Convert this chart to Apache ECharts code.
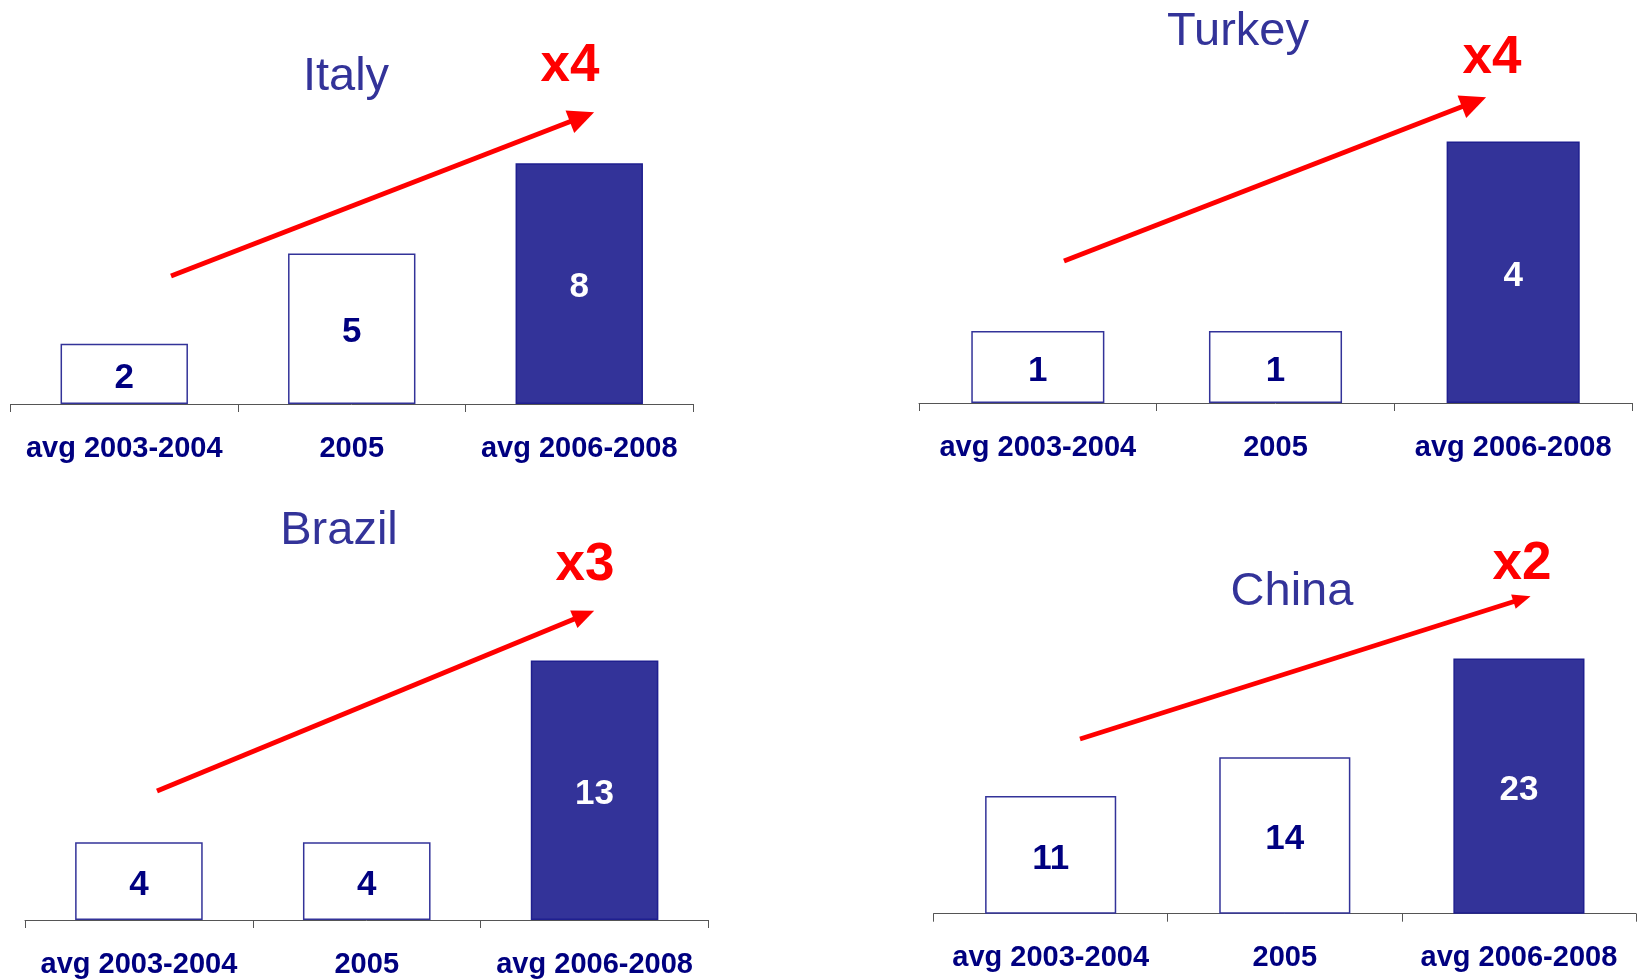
<!DOCTYPE html>
<html>
<head>
<meta charset="utf-8">
<script src="https://cdn.jsdelivr.net/npm/echarts@6/dist/echarts.min.js"></script>
<style>
html,body{margin:0;padding:0;background:#fff;}
#chart{width:1641px;height:980px;}
</style>
</head>
<body>
<div id="chart"></div>
<script>
// ---- data ----
const categories = ['avg 2003-2004', '2005', 'avg 2006-2008'];
const countries = ['Italy', 'Turkey', 'Brazil', 'China'];
const italyValues = [2, 5, 8];
const turkeyValues = [1.1, 1.1, 4.0];
const brazilValues = [3.9, 3.9, 13];
const chinaValues = [10.6, 14.1, 23];
const multipliers = ['x4', 'x4', 'x3', 'x2'];

// ---- layout / style ----
const FONT = '"Liberation Sans", Arial, Helvetica, sans-serif';
const NAVY = '#000080';
const FILL = '#333399';
const panels = [
  {values: italyValues, grid: {left: 10.5, right: 948, top: 103, bottom: 576}, max: 10,
   title: [346, 77], mult: [570, 66], arrow: [[171, 276], [582, 117]], head: [24, 26], lw: 5},
  {values: turkeyValues, grid: {left: 919, right: 9, top: 76, bottom: 577}, max: 5,
   title: [1238, 32], mult: [1492, 58], arrow: [[1064, 261], [1474, 102]], head: [24, 26], lw: 5},
  {values: brazilValues, grid: {left: 25, right: 932.5, top: 620.5, bottom: 60}, max: 15,
   title: [339, 531], mult: [585, 565], arrow: [[157, 791], [584, 615]], head: [19, 22], lw: 5},
  {values: chinaValues, grid: {left: 933.6, right: 5, top: 580.7, bottom: 66.3}, max: 30,
   title: [1292, 592], mult: [1522, 564], arrow: [[1080, 739], [1522, 599]], head: [15, 18], lw: 4.5}
];

const option = {
  animation: false,
  backgroundColor: '#fff',
  grid: [], xAxis: [], yAxis: [], series: [], graphic: []
};

panels.forEach((p, k) => {
  option.grid.push(Object.assign({containLabel: false}, p.grid));
  option.xAxis.push({
    type: 'category', gridIndex: k, data: categories,
    axisLine: {show: true, lineStyle: {color: '#555', width: 1}},
    axisTick: {show: true, length: 8, lineStyle: {color: '#555', width: 1}},
    axisLabel: {color: NAVY, fontFamily: FONT, fontWeight: 'bold', fontSize: 29, margin: 30, interval: 0}
  });
  option.yAxis.push({type: 'value', gridIndex: k, min: 0, max: p.max, show: false, splitLine: {show: false}});
  const last = p.values.length - 1;
  option.series.push({
    type: 'bar', xAxisIndex: k, yAxisIndex: k, barWidth: '56%',
    data: p.values.map((v, i) => ({
      value: v,
      itemStyle: i === last
        ? {color: FILL, borderColor: '#1f1f8f', borderWidth: 1.5}
        : {color: '#ffffff', borderColor: FILL, borderWidth: 1.5},
      label: {color: i === last ? '#ffffff' : NAVY}
    })),
    label: {show: true, position: 'inside', offset: [0, 4], fontFamily: FONT, fontWeight: 'bold', fontSize: 35,
            formatter: (d) => String(Math.round(d.value))},
    markLine: {
      silent: true, animation: false,
      symbol: ['none', 'triangle'], symbolSize: p.head,
      label: {show: false},
      lineStyle: {color: '#ff0000', width: p.lw, type: 'solid'},
      data: [[{x: p.arrow[0][0], y: p.arrow[0][1]}, {x: p.arrow[1][0], y: p.arrow[1][1]}]]
    }
  });
  option.graphic.push({
    type: 'text', x: p.title[0], y: p.title[1],
    style: {text: countries[k], font: '47px ' + FONT, fill: FILL, textAlign: 'center', textVerticalAlign: 'middle'}
  });
  option.graphic.push({
    type: 'text', x: p.mult[0], y: p.mult[1],
    style: {text: multipliers[k], font: 'bold 53px ' + FONT, fill: '#ff0000', textAlign: 'center', textVerticalAlign: 'middle'}
  });
});

const chart = echarts.init(document.getElementById('chart'), null, {renderer: 'canvas'});
chart.setOption(option);
</script>
</body>
</html>
